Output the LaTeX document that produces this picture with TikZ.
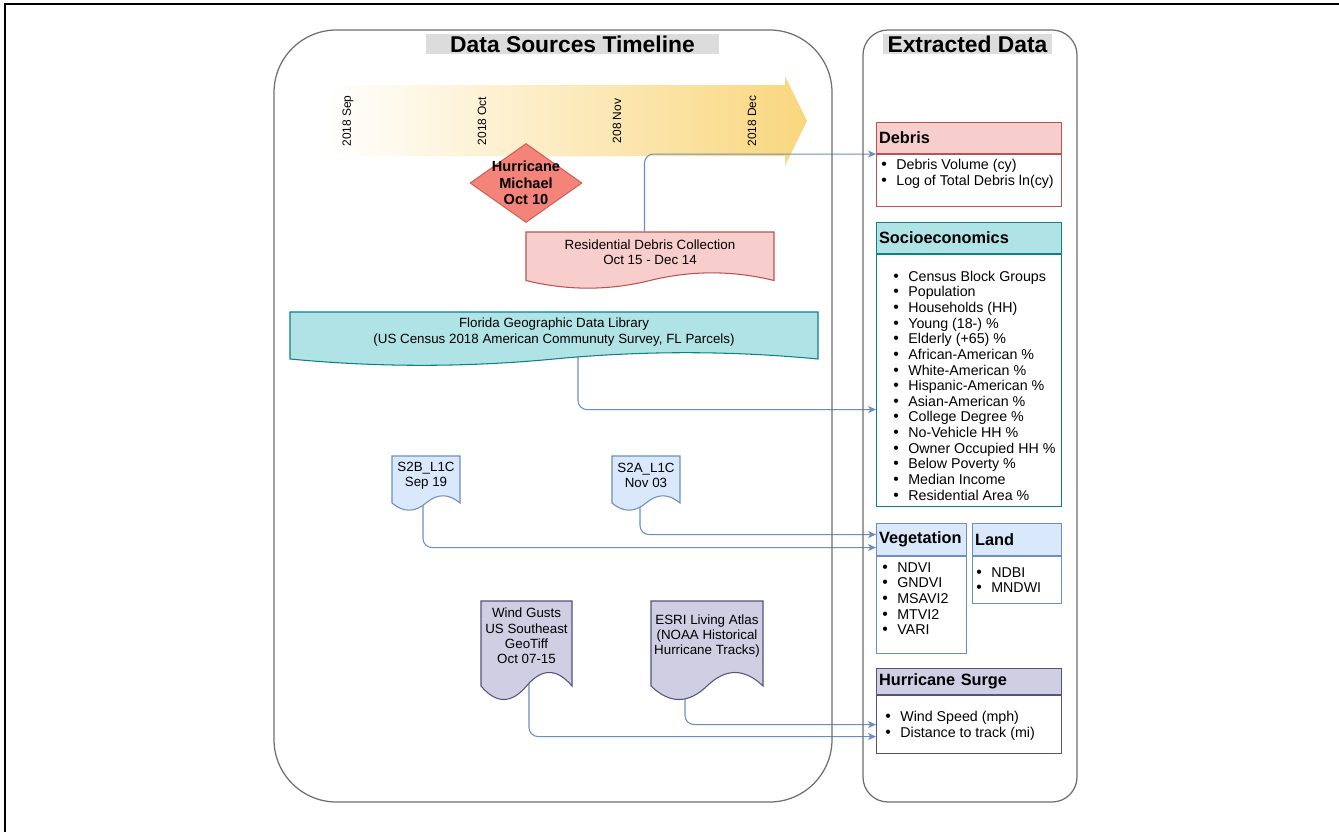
\documentclass[tikz,border=0pt]{standalone}
\usepackage{fontspec}
\setmainfont{Liberation Sans}
\usetikzlibrary{arrows.meta,shapes.geometric,backgrounds,positioning}

\definecolor{redfill}{HTML}{F8CECC}
\definecolor{redline}{HTML}{B85450}
\definecolor{tealfill}{HTML}{B0E3E6}
\definecolor{tealline}{HTML}{0E8088}
\definecolor{bluefill}{HTML}{DAE8FC}
\definecolor{blueline}{HTML}{6C8EBF}
\definecolor{purpfill}{HTML}{D0CEE2}
\definecolor{purpline}{HTML}{56517E}
\definecolor{hurrfill}{HTML}{F4837A}
\definecolor{hurrline}{HTML}{D0615A}
\definecolor{tlyellow}{HTML}{F9D77E}
\definecolor{panelgray}{HTML}{6E6E6E}
\definecolor{titlegray}{HTML}{DCDCDC}
\definecolor{linkblue}{HTML}{6C8EBF}

\newcommand{\fttl}{\fontsize{13}{15}\selectfont\bfseries}
\newcommand{\fhdr}{\fontsize{9.3}{11}\selectfont\bfseries}
\newcommand{\flst}{\fontsize{8.1}{8.9}\selectfont}
\newcommand{\fdoc}{\fontsize{7.6}{8.8}\selectfont}
\newcommand{\fmon}{\fontsize{6.8}{8}\selectfont}
\newcommand{\fhur}{\fontsize{8.3}{9.4}\selectfont\bfseries}
\newcommand{\bul}{\makebox[3mm][l]{\fontsize{9}{9}\selectfont\textbullet}}

% document shape: name, style, left, top, width, height, wave, text
\newcommand{\docnode}[8]{%
  \begin{scope}[shift={(#3,#4)}]
    \draw[#2] (0,0) -- (#5,0) -- (#5,{#6-0.5*#7})
      .. controls ({5*#5/6},{#6-1.1*#7}) and ({2*#5/3},{#6-1.1*#7}) .. ({#5/2},{#6-0.5*#7})
      .. controls ({#5/3},{#6+0.1*#7}) and ({#5/6},{#6+0.1*#7}) .. (0,{#6-0.5*#7}) -- cycle;
    \node[doctext,minimum width=#5*0.2mm,minimum height={(#6-#7)*0.2mm}] (#1) at ({#5/2},{(#6-#7)/2}) {#8};
  \end{scope}}

\begin{document}
\begin{tikzpicture}[x=0.02cm,y=-0.02cm,
  panel/.style={draw=panelgray,line width=0.7pt,rounded corners=#1},
  ttl/.style={fill=titlegray,inner sep=0pt,minimum height=0.4cm,font=\fttl},
  month/.style={rotate=90,font=\fmon,inner sep=0pt},
  doctext/.style={align=center,font=\fdoc,inner sep=0pt},
  hdr/.style={anchor=north west,inner sep=0pt,align=left,font=\fhdr},
  body/.style={anchor=north west,inner sep=0pt,fill=white,line width=0.6pt},
  lst/.style={anchor=west,align=left,inner sep=0pt,font=\flst},
  link/.style={draw=linkblue,line width=0.6pt,rounded corners=1.8mm,-{Stealth[length=4.5pt,width=4pt,inset=1.2pt]}},
  redbox/.style={fill=redfill,draw=redline,line width=0.6pt},
  tealbox/.style={fill=tealfill,draw=tealline,line width=0.6pt},
  bluebox/.style={fill=bluefill,draw=blueline,line width=0.6pt},
  purpbox/.style={fill=purpfill,draw=purpline,line width=0.6pt}]
\useasboundingbox (0,0) rectangle (1339,832);
\draw[line width=1pt] (5,832) -- (5,4) -- (1339,4);

% panels
\draw[panel=1.25cm] (274,30) rectangle (832,802);
\draw[panel=0.5cm] (863,30) rectangle (1077,802);
\node[ttl,minimum width=5.86cm] (dstitle) at (572.5,44) {Data Sources Timeline};
\node[ttl,minimum width=3.38cm] (edtitle) at (967.5,44) {Extracted Data};

% timeline
\begin{pgfonlayer}{background}
\fill[white] (0,0) rectangle (1339,832);
\shade[left color=white,right color=tlyellow] (325,85) -- (785,85) -- (785,76) -- (807,121)
  -- (785,166) -- (785,156) -- (325,156) -- cycle;
\end{pgfonlayer}
\node[month] (msep) at (348,121) {2018 Sep};
\node[month] (moct) at (482,121) {2018 Oct};
\node[month] (mnov) at (617,121) {208 Nov};
\node[month] (mdec) at (752,121) {2018 Dec};

\node[diamond,fill=hurrfill,draw=hurrline,line width=0.6pt,minimum width=2.24cm,minimum height=1.58cm,inner sep=0pt] (hmd) at (526,183) {};
\node[align=center,font=\fhur,inner sep=0pt] (hm) at (526,183) {Hurricane\\Michael\\Oct 10};

% sources
\docnode{resid}{redbox}{526}{232}{248}{57}{17}{Residential Debris Collection\\Oct 15 - Dec 14}
\docnode{flgdl}{tealbox}{290}{312}{528}{54}{14}{Florida Geographic Data Library\\(US Census 2018 American Communuty Survey, FL Parcels)}
\docnode{stwob}{bluebox}{392}{456}{68}{55}{16}{S2B\_L1C\\Sep 19}
\docnode{stwoa}{bluebox}{612}{456}{68}{55}{16}{S2A\_L1C\\Nov 03}
\docnode{wind}{purpbox}{481}{601}{91}{100}{30}{Wind Gusts\\US Southeast\\GeoTiff\\Oct 07-15}
\docnode{esri}{purpbox}{651}{601}{112}{100}{30}{ESRI Living Atlas\\(NOAA Historical\\Hurricane Tracks)}

% extracted data
\node[hdr,redbox,minimum width=3.7cm,minimum height=0.62cm,text width=3.6cm] (debhead) at (876,122) {Debris};
\node[body,draw=redline,minimum width=3.7cm,minimum height=1.04cm] (debbody) at (debhead.south west) {};
\node[lst] (deblist) at ([xshift=1mm,yshift=1.3mm]debbody.west) {\bul Debris Volume (cy)\\\bul Log of Total Debris ln(cy)};

\node[hdr,tealbox,minimum width=3.7cm,minimum height=0.62cm,text width=3.6cm] (sochead) at (876,222) {Socioeconomics};
\node[body,draw=tealline,minimum width=3.7cm,minimum height=5.04cm] (socbody) at (sochead.south west) {};
\node[lst] (soclist) at ([xshift=3.4mm,yshift=-1mm]socbody.west) {\bul Census Block Groups\\\bul Population\\\bul Households (HH)\\
  \bul Young (18-) \%\\\bul Elderly (+65) \%\\\bul African-American \%\\\bul White-American \%\\
  \bul Hispanic-American \%\\\bul Asian-American \%\\\bul College Degree \%\\\bul No-Vehicle HH \%\\
  \bul Owner Occupied HH \%\\\bul Below Poverty \%\\\bul Median Income\\\bul Residential Area \%};

\node[hdr,bluebox,minimum width=1.8cm,minimum height=0.64cm,text width=1.7cm] (veghead) at (876,523) {Vegetation};
\node[body,draw=blueline,minimum width=1.8cm,minimum height=1.94cm] (vegbody) at (veghead.south west) {};
\node[lst] (veglist) at ([xshift=1.2mm,yshift=1.3mm]vegbody.west) {\bul NDVI\\\bul GNDVI\\\bul MSAVI2\\\bul MTVI2\\\bul VARI};

\node[hdr,bluebox,minimum width=1.78cm,minimum height=0.64cm,text width=1.68cm] (landhead) at (972,523) {Land};
\node[body,draw=blueline,minimum width=1.78cm,minimum height=0.94cm] (landbody) at (landhead.south west) {};
\node[lst] (landlist) at ([xshift=0.8mm]landbody.west) {\bul NDBI\\\bul MNDWI};

\node[hdr,purpbox,minimum width=3.7cm,minimum height=0.52cm,text width=3.6cm] (hshead) at (876,668) {Hurricane Surge};
\node[body,draw=purpline,minimum width=3.7cm,minimum height=1.16cm] (hsbody) at (hshead.south west) {};
\node[lst] (hslist) at ([xshift=1.8mm,yshift=-0.3mm]hsbody.west) {\bul Wind Speed (mph)\\\bul Distance to track (mi)};

% connectors
\begin{pgfonlayer}{background}
\draw[link] ([xshift=-1.1mm]resid.north) |- (debbody.north west);
\draw[link] ([xshift=4.8mm]flgdl.south) |- ([yshift=-5.8mm]socbody.west);
\draw[link] ([xshift=-0.6mm]stwob.south) |- ([yshift=-1.6mm]veghead.west);
\draw[link] ([xshift=-1.2mm]stwoa.south) |- ([yshift=1mm]veghead.west);
\draw[link] ([xshift=0.5mm]wind.south) |- ([yshift=-2.4mm]hsbody.west);
\draw[link] ([xshift=-4.4mm]esri.south) |- (hsbody.west);
\end{pgfonlayer}
\end{tikzpicture}
\end{document}
